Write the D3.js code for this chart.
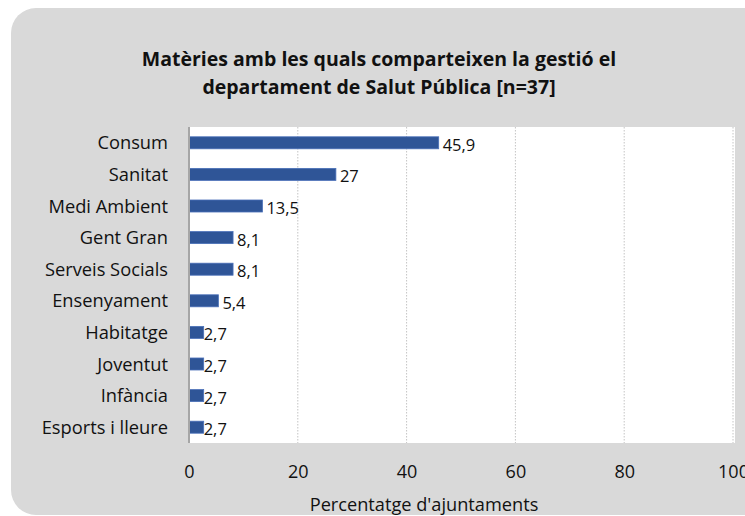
<!DOCTYPE html>
<html>
<head>
<meta charset="utf-8">
<script src="https://cdn.jsdelivr.net/npm/d3@7"></script>
<style>
  html, body { margin: 0; padding: 0; background: #ffffff; }
  svg { display: block; }
</style>
</head>
<body>
<svg id="chart" width="745" height="516"></svg>
<script>
// ---- data ----
const categories = ["Consum", "Sanitat", "Medi Ambient", "Gent Gran", "Serveis Socials",
                    "Ensenyament", "Habitatge", "Joventut", "Infància", "Esports i lleure"];
const values = [45.9, 27, 13.5, 8.1, 8.1, 5.4, 2.7, 2.7, 2.7, 2.7];
const valueLabels = ["45,9", "27", "13,5", "8,1", "8,1", "5,4", "2,7", "2,7", "2,7", "2,7"];
const xTicks = [0, 20, 40, 60, 80, 100];
const titleLines = ["Matèries amb les quals comparteixen la gestió el",
                    "departament de Salut Pública [n=37]"];
const xAxisTitle = "Percentatge d'ajuntaments";

// ---- layout ----
const svg = d3.select("#chart");
const font = "'Open Sans', 'DejaVu Sans', sans-serif";
const plot = { left: 189, right: 735, top: 127, bottom: 443 };

// chart area background (rounded, extends past right edge)
svg.append("rect")
  .attr("x", 11).attr("y", 8)
  .attr("width", 780).attr("height", 507)
  .attr("rx", 25).attr("ry", 25)
  .attr("fill", "#d9d9d9");

// plot area
svg.append("rect")
  .attr("x", plot.left).attr("y", plot.top)
  .attr("width", plot.right - plot.left).attr("height", plot.bottom - plot.top)
  .attr("fill", "#ffffff");

const x = d3.scaleLinear().domain([0, 100]).range([plot.left, 733]);
const y = d3.scaleBand().domain(categories).range([plot.top, plot.bottom])
  .paddingInner(0.62).paddingOuter(0.31);

// gridlines
svg.append("g")
  .selectAll("line")
  .data(xTicks.filter(d => d > 0))
  .join("line")
  .attr("x1", d => x(d)).attr("x2", d => x(d))
  .attr("y1", plot.top).attr("y2", plot.bottom)
  .attr("stroke", "#c4c4c4")
  .attr("stroke-width", 1)
  .attr("stroke-dasharray", "1.5,1.5");

// x axis tick labels
const xAxis = d3.axisBottom(x).tickValues(xTicks).tickSize(0).tickPadding(0)
  .tickFormat(d3.format("d"));
const gx = svg.append("g").attr("transform", `translate(0, 478)`).call(xAxis);
gx.select(".domain").remove();
gx.selectAll("text")
  .attr("dy", 0).attr("y", 0)
  .attr("font-family", font).attr("font-size", 18)
  .attr("fill", "#111111");

// y axis
const yAxis = d3.axisLeft(y).tickSize(0).tickPadding(0);
const gy = svg.append("g").attr("transform", `translate(168, 0)`).call(yAxis);
gy.select(".domain").remove();
gy.selectAll("text")
  .attr("x", 0).attr("dy", "0.36em")
  .attr("font-family", font).attr("font-size", 18.3)
  .attr("fill", "#111111");

// bars
svg.append("g")
  .selectAll("rect")
  .data(categories)
  .join("rect")
  .attr("x", x(0))
  .attr("y", d => y(d))
  .attr("width", (d, i) => x(values[i]) - x(0))
  .attr("height", y.bandwidth())
  .attr("fill", "#2f5597")
  .attr("stroke", "#4a70b8")
  .attr("stroke-width", 0.8);

// category axis line
svg.append("line")
  .attr("x1", plot.left).attr("x2", plot.left)
  .attr("y1", plot.top).attr("y2", plot.bottom)
  .attr("stroke", "#a6a6a6").attr("stroke-width", 2);

// value labels
svg.append("g")
  .selectAll("text")
  .data(categories)
  .join("text")
  .attr("x", (d, i) => x(values[i]) + (values[i] < 5 ? 0 : 4))
  .attr("y", d => y(d) + y.bandwidth() / 2 + 2)
  .attr("dy", "0.36em")
  .attr("font-family", font).attr("font-size", 16.5)
  .attr("fill", "#111111")
  .text((d, i) => valueLabels[i]);

// title
svg.append("text")
  .attr("x", 379).attr("y", 66)
  .attr("text-anchor", "middle")
  .attr("font-family", font).attr("font-size", 19.5).attr("font-weight", "bold")
  .attr("fill", "#111111")
  .selectAll("tspan")
  .data(titleLines)
  .join("tspan")
  .attr("x", 379)
  .attr("dy", (d, i) => i === 0 ? 0 : 28)
  .text(d => d);

// x axis title
svg.append("text")
  .attr("x", 424).attr("y", 511)
  .attr("text-anchor", "middle")
  .attr("font-family", font).attr("font-size", 18.2)
  .attr("fill", "#111111")
  .text(xAxisTitle);
</script>
</body>
</html>
